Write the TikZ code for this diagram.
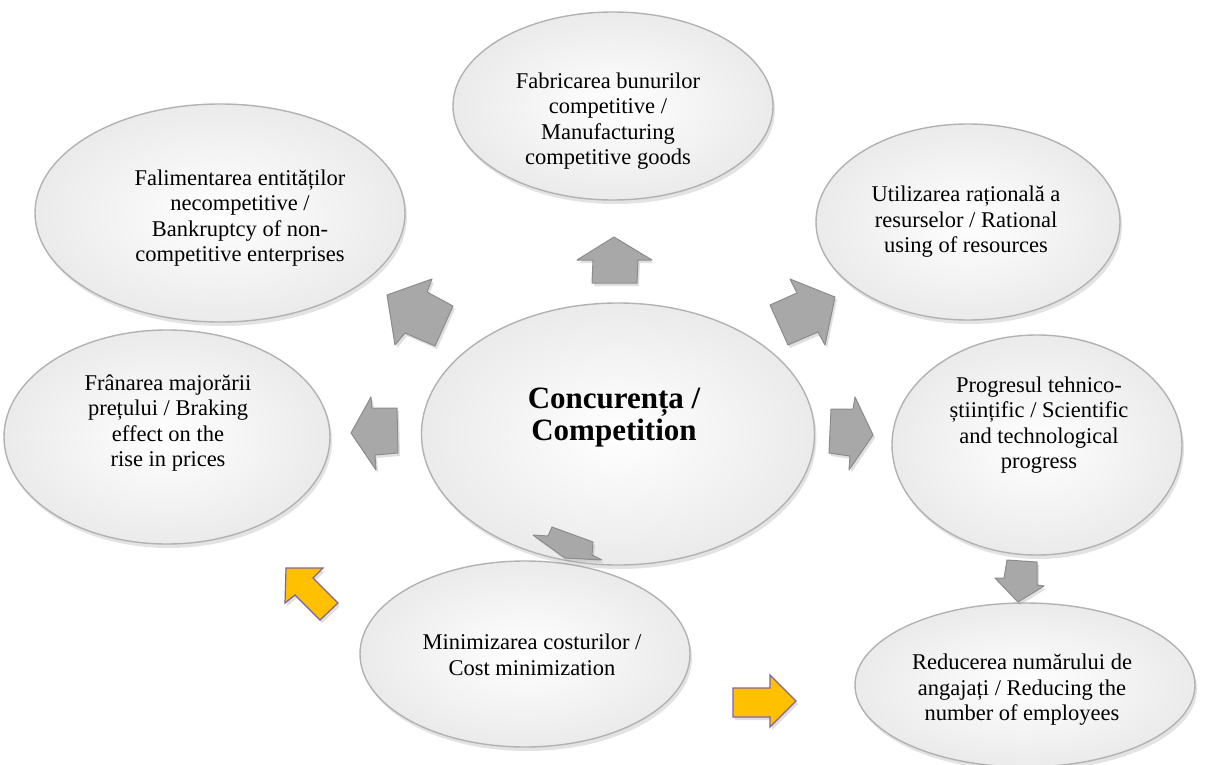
\documentclass[tikz,border=0pt]{standalone}
\usepackage{fontspec}
\setmainfont{Liberation Serif}
\usetikzlibrary{shapes.geometric,shadows}
\definecolor{arrowgray}{HTML}{A8A8A8}
\definecolor{arrowedge}{HTML}{8C8C8C}
\definecolor{goldfill}{HTML}{FFC000}
\definecolor{violetedge}{HTML}{8064A2}
\begin{document}
\begin{tikzpicture}[x=1pt,y=-1pt,
  bubble/.style={ellipse, inner sep=0pt, draw=gray!60, line width=1.4pt,
    inner color=white, outer color=gray!16,
    drop shadow={opacity=0.22, shadow xshift=2pt, shadow yshift=-4pt}},
  txt/.style={align=center, font=\fontsize{22.5}{25.5}\selectfont, inner sep=0pt},
  bigtxt/.style={align=center, font=\bfseries\fontsize{31}{32}\selectfont, inner sep=0pt},
  grayarrow/.style={fill=arrowgray, draw=arrowedge, line width=1pt, line join=round,
    drop shadow={opacity=0.25, shadow xshift=2pt, shadow yshift=-3pt}},
  goldarrow/.style={fill=goldfill, draw=violetedge, line width=1.2pt, line join=miter,
    drop shadow={opacity=0.25, shadow xshift=2pt, shadow yshift=-3pt}}]
\useasboundingbox[fill=white] (0,0) rectangle (1218,765);

% ellipses
\node[bubble, minimum width=320, minimum height=188] (etop) at (613,106) {};
\node[bubble, minimum width=370, minimum height=218] (eul) at (220,213) {};
\node[bubble, minimum width=304, minimum height=196] (eur) at (968,222) {};
\node[bubble, minimum width=326, minimum height=214] (el) at (167,437) {};
\node[bubble, minimum width=290, minimum height=220] (er) at (1037,445) {};
\node[bubble, minimum width=330, minimum height=186] (eb) at (525,654) {};
\node[bubble, minimum width=340, minimum height=164] (ebr) at (1025,685) {};
\node[bubble, minimum width=393, minimum height=262] (ec) at (618,434) {};

% texts
\node[bigtxt] (tc) at (614,418) {Concurența /\\Competition};
\node[txt] (ttop) at (608,121) {Fabricarea bunurilor\\competitive /\\Manufacturing\\competitive goods};
\node[txt] (tul) at (240,218) {Falimentarea entităților\\necompetitive /\\Bankruptcy of non-\\competitive enterprises};
\node[txt] (tur) at (966,222) {Utilizarea rațională a\\resurselor / Rational\\using of resources};
\node[txt] (tl) at (168,423) {Frânarea majorării\\prețului / Braking\\effect on the\\rise in prices};
\node[txt] (tr) at (1039,425) {Progresul tehnico-\\științific / Scientific\\and technological\\progress};
\node[txt] (tb) at (532,655) {Minimizarea costurilor /\\Cost minimization};
\node[txt] (tbr) at (1022,690) {Reducerea numărului de\\angajați / Reducing the\\number of employees};

% gray block arrows
\path[grayarrow] (614,237) -- (652,260) -- (638,260) -- (637,283) -- (592,283) -- (593,260) -- (577,260) -- cycle;
\path[grayarrow] (387,295) -- (432,279) -- (427,292) -- (453,306) -- (435,346) -- (405,333) -- (395,345) -- cycle;
\path[grayarrow] (835,297) -- (790,279) -- (797,293) -- (770,305) -- (788,345) -- (818,332) -- (825,345) -- cycle;
\path[grayarrow] (351,433) -- (371,397) -- (372,408) -- (397,408) -- (398,453) -- (375,455) -- (376,470) -- cycle;
\path[grayarrow] (873,435) -- (855,397) -- (853,409) -- (831,409) -- (829,453) -- (850,456) -- (849,470) -- cycle;
\path[grayarrow] (1018,602) -- (1044,586) -- (1037,585) -- (1037,562) -- (1007,560) -- (1004,578) -- (995,578) -- cycle;
\path[grayarrow] (565,558) -- (602,560) -- (592,555) -- (593,542) -- (552,527) -- (548,536) -- (533,535) -- cycle;

% gold block arrows
\path[goldarrow] (286,568) -- (323,568) -- (313,578) -- (338,603) -- (320,620) -- (295,595) -- (285,603) -- cycle;
\path[goldarrow] (796,701) -- (770,675) -- (770,688) -- (733,688) -- (733,717) -- (770,717) -- (770,727) -- cycle;
\end{tikzpicture}
\end{document}
